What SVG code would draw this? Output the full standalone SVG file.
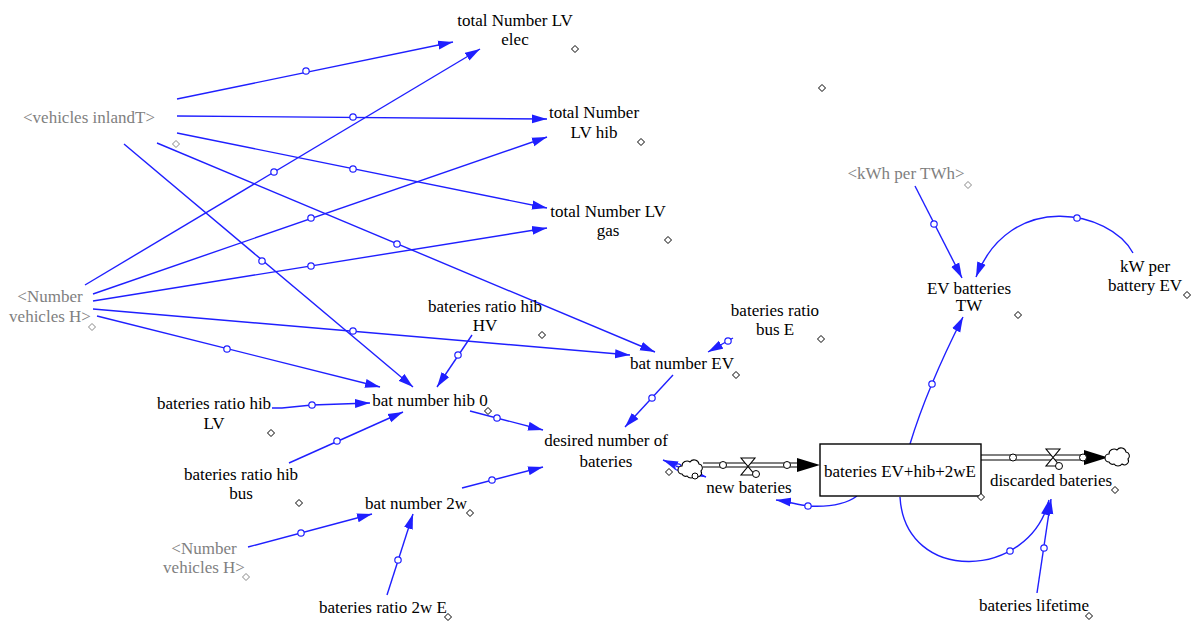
<svg xmlns="http://www.w3.org/2000/svg" width="1194" height="621" viewBox="0 0 1194 621" font-family="'Liberation Serif', 'DejaVu Serif', serif">
<style>
text{font-family:"Liberation Serif","DejaVu Serif",serif;font-size:17px;fill:#000;text-anchor:middle}
.g{fill:#7f7f7f}
.c{fill:none;stroke:#1f1fff;stroke-width:1.4;marker-end:url(#ab)}
.h{fill:#fff;stroke:#1f1fff;stroke-width:1.2}
.dm{fill:#fff;stroke:#000;stroke-width:1}
.dg{fill:#fff;stroke:#888;stroke-width:1}
.p{fill:none;stroke:#000;stroke-width:1.2}
.pc{fill:#fff;stroke:#000;stroke-width:1}
.v{fill:#fff;stroke:#000;stroke-width:1.1}
</style>
<defs>
<marker id="ab" viewBox="0 0 15 10" refX="15" refY="5" markerWidth="15" markerHeight="10" markerUnits="userSpaceOnUse" orient="auto"><path d="M0,0.5 L15,5 L0,9.5 Z" fill="#1f1fff"/></marker>
<path id="d" d="M0,-3.5 L3.5,0 L0,3.5 L-3.5,0 Z"/>
<path id="cl" d="M-10,5 a4,4 0 0 1 0,-8 a5,5 0 0 1 8,-4 a5,5 0 0 1 9,2 a4,4 0 0 1 2,7 a4,4 0 0 1 -6,5 a5,5 0 0 1 -8,0 a4,4 0 0 1 -5,-2 z"/>
</defs>
<rect width="1194" height="621" fill="#fff"/>

<g id="connectors">
<path class="c" d="M177,99 L453,42"/><circle class="h" cx="306" cy="71" r="3.2"/>
<path class="c" d="M177,116 L547,119"/><circle class="h" cx="353" cy="117" r="3.2"/>
<path class="c" d="M177,133 L547,208"/><circle class="h" cx="353" cy="169" r="3.2"/>
<path class="c" d="M157,143 L655,352"/><circle class="h" cx="397" cy="244" r="3.2"/>
<path class="c" d="M124,144 L413,387"/><circle class="h" cx="262" cy="261" r="3.2"/>
<path class="c" d="M85,285 L480,49"/><circle class="h" cx="274" cy="172" r="3.2"/>
<path class="c" d="M93,294 L547,137"/><circle class="h" cx="311" cy="218" r="3.2"/>
<path class="c" d="M93,301 L547,228"/><circle class="h" cx="311" cy="266" r="3.2"/>
<path class="c" d="M93,309 L630,355"/><circle class="h" cx="353" cy="331" r="3.2"/>
<path class="c" d="M97,316 L380,387"/><circle class="h" cx="227" cy="349" r="3.2"/>
<path class="c" d="M472,335 L437,387"/><circle class="h" cx="458" cy="355" r="3.2"/>
<path class="c" d="M272,408 L282,408 L312,405 L370,403"/><circle class="h" cx="312" cy="405" r="3.2"/>
<path class="c" d="M289,463 L403,412"/><circle class="h" cx="337" cy="441" r="3.2"/>
<path class="c" d="M470,411 L543,430"/><circle class="h" cx="497" cy="418" r="3.2"/>
<path class="c" d="M462,488 L543,467"/><circle class="h" cx="492" cy="480" r="3.2"/>
<path class="c" d="M673,375 L625,427"/><circle class="h" cx="652" cy="398" r="3.2"/>
<path class="c" d="M733,338 L708,352"/><circle class="h" cx="728" cy="341" r="3.2"/>
<path class="c" d="M248,547 L372,514"/><circle class="h" cx="301" cy="533" r="3.2"/>
<path class="c" d="M387,595 L413,514"/><circle class="h" cx="398" cy="560" r="3.2"/>
<path class="c" d="M915,186 L962,278"/><circle class="h" cx="934" cy="224" r="3.2"/>
<path class="c" d="M1133,253 C1110,210 1010,190 976,277"/><circle class="h" cx="1077" cy="218" r="3.2"/>
<path class="c" d="M910,444 Q927,388 963,317"/><circle class="h" cx="932" cy="384" r="3.2"/>
<path class="c" d="M900,497 C905,585 1030,580 1049,500"/><circle class="h" cx="1010" cy="551" r="3.2"/>
<path class="c" d="M1037,593 L1051,499"/><circle class="h" cx="1044" cy="548" r="3.2"/>
<path class="c" d="M857,496 C845,505 825,507 808,506 C798,505 790,502 776,500"/><circle class="h" cx="808" cy="506" r="3.2"/>
<path class="c" d="M690,471 L663,460"/><circle class="h" cx="678" cy="467" r="3.2"/>
<path class="c" d="M676,466 L706,477"/>
</g>

<g id="flow-new-bateries">
<path class="p" d="M703,463 L798,463 M703,467 L798,467"/>
<polygon points="797,458 820,465 797,472" fill="#000"/>
<use href="#cl" x="692" y="469" class="v"/>
<circle class="pc" cx="723" cy="465" r="3.5"/>
<circle class="pc" cx="787" cy="465" r="3.5"/>
<path class="v" d="M741,458 L755,458 L741,475 L755,475 Z"/>
<circle class="pc" cx="756" cy="474" r="3.5"/>
<use href="#d" class="dm" x="669" y="472"/>
<circle class="pc" cx="695" cy="476" r="3"/>
<text x="749" y="493">new bateries</text>
</g>

<g id="flow-discarded-bateries">
<path class="p" d="M981,455 L1086,455 M981,460 L1086,460"/>
<polygon points="1084,450 1108,457.5 1084,465" fill="#000"/>
<use href="#cl" x="1119" y="457" class="v"/>
<circle class="pc" cx="1013" cy="457.5" r="3.5"/>
<circle class="pc" cx="1083" cy="457.5" r="3.5"/>
<path class="v" d="M1046,449 L1060,449 L1046,466 L1060,466 Z"/>
<circle class="pc" cx="1059" cy="466" r="3.5"/>
<text x="1051" y="486">discarded bateries</text>
<use href="#d" class="dm" x="1115" y="490"/>
</g>

<g id="stock-bateries">
<rect x="820" y="444" width="161" height="52" fill="#fff" stroke="#000" stroke-width="1.4"/>
<text x="900" y="477">bateries EV+hib+2wE</text>
<use href="#d" class="dm" x="981" y="497"/>
</g>

<g id="total-LV-elec"><text x="515" y="26">total Number LV</text><text x="515" y="45">elec</text><use href="#d" class="dm" x="575" y="49"/></g>
<g id="total-LV-hib"><text x="594" y="118">total Number</text><text x="594" y="138">LV hib</text><use href="#d" class="dm" x="641" y="142"/></g>
<g id="total-LV-gas"><text x="608" y="217">total Number LV</text><text x="608" y="236">gas</text><use href="#d" class="dm" x="668" y="240"/></g>
<g id="vehicles-inlandT"><text class="g" x="89" y="123">&lt;vehicles inlandT&gt;</text><use href="#d" class="dg" x="176" y="144"/></g>
<g id="number-vehicles-H-1"><text class="g" x="50" y="302">&lt;Number</text><text class="g" x="50" y="322">vehicles H&gt;</text><use href="#d" class="dg" x="92" y="327"/></g>
<g id="kwh-per-twh"><text class="g" x="906" y="179">&lt;kWh per TWh&gt;</text><use href="#d" class="dg" x="968" y="185"/></g>
<g id="ev-batteries-tw"><text x="969" y="294">EV batteries</text><text x="969" y="311">TW</text><use href="#d" class="dm" x="1018" y="315"/></g>
<g id="kw-per-battery"><text x="1145" y="272">kW per</text><text x="1145" y="291">battery EV</text><use href="#d" class="dm" x="1187" y="295"/></g>
<g id="ratio-hib-hv"><text x="485" y="312">bateries ratio hib</text><text x="485" y="331">HV</text><use href="#d" class="dm" x="542" y="335"/></g>
<g id="ratio-bus-e"><text x="775" y="316">bateries ratio</text><text x="775" y="335">bus E</text><use href="#d" class="dm" x="821" y="339"/></g>
<g id="bat-number-ev"><text x="682" y="369">bat number EV</text><use href="#d" class="dm" x="736" y="375"/></g>
<g id="bat-number-hib0"><text x="430" y="406">bat number hib 0</text><use href="#d" class="dm" x="488" y="411"/></g>
<g id="ratio-hib-lv"><text x="214" y="409">bateries ratio hib</text><text x="214" y="429">LV</text><use href="#d" class="dm" x="271" y="433"/></g>
<g id="ratio-hib-bus"><text x="241" y="480">bateries ratio hib</text><text x="241" y="499">bus</text><use href="#d" class="dm" x="299" y="503"/></g>
<g id="bat-number-2w"><text x="416" y="509">bat number 2w</text><use href="#d" class="dm" x="470" y="513"/></g>
<g id="number-vehicles-H-2"><text class="g" x="204" y="554">&lt;Number</text><text class="g" x="204" y="573">vehicles H&gt;</text><use href="#d" class="dg" x="246" y="577"/></g>
<g id="ratio-2w-e"><text x="383" y="613">bateries ratio 2w E</text><use href="#d" class="dm" x="448" y="617"/></g>
<g id="desired-number"><text x="606" y="446">desired number of</text><text x="606" y="467">bateries</text></g>
<g id="bateries-lifetime"><text x="1034" y="611">bateries lifetime</text><use href="#d" class="dm" x="1089" y="616"/></g>
<g id="loose-handle"><use href="#d" class="dm" x="822" y="88"/></g>
</svg>
